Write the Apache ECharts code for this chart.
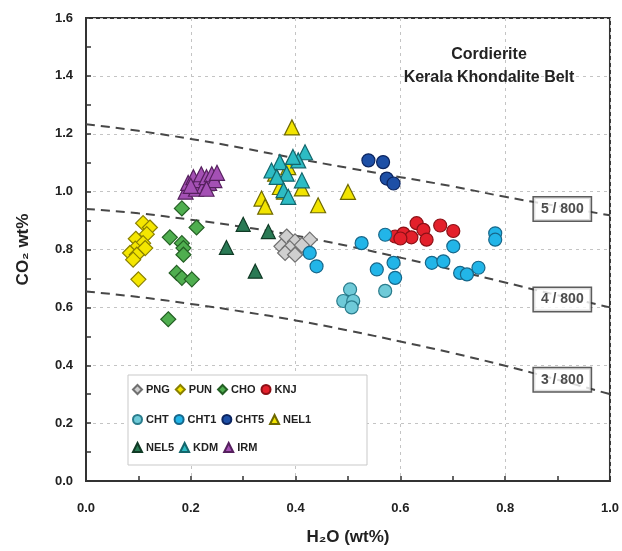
<!DOCTYPE html>
<html>
<head>
<meta charset="utf-8">
<script src="https://cdn.jsdelivr.net/npm/echarts@6/dist/echarts.min.js"></script>
<style>
html,body{margin:0;padding:0;background:#fff;}
#chart{width:622px;height:551px;}
</style>
</head>
<body>
<div id="chart"></div>
<script>
// ---- data (H2O wt%, CO2 wt%) ----
var PNG = [[0.383,0.845],[0.399,0.828],[0.373,0.811],[0.389,0.805],[0.408,0.799],[0.380,0.788],[0.399,0.782],[0.427,0.834],[0.412,0.815]];
var PUN = [[0.109,0.891],[0.122,0.876],[0.116,0.853],[0.095,0.837],[0.109,0.822],[0.094,0.803],[0.113,0.805],[0.084,0.788],[0.097,0.782],[0.090,0.765],[0.100,0.697]];
var CHO = [[0.183,0.942],[0.211,0.876],[0.160,0.842],[0.183,0.822],[0.186,0.805],[0.186,0.782],[0.173,0.719],[0.183,0.702],[0.202,0.697],[0.157,0.559]];
var KNJ = [[0.590,0.845],[0.606,0.855],[0.631,0.891],[0.621,0.842],[0.644,0.868],[0.650,0.834],[0.676,0.883],[0.701,0.864],[0.600,0.838]];
var CHT = [[0.504,0.662],[0.491,0.622],[0.510,0.622],[0.507,0.600],[0.571,0.657]];
var CHT1 = [[0.427,0.788],[0.440,0.742],[0.526,0.822],[0.571,0.851],[0.555,0.731],[0.587,0.754],[0.590,0.702],[0.701,0.811],[0.781,0.856],[0.781,0.834],[0.660,0.754],[0.682,0.759],[0.714,0.719],[0.727,0.714],[0.749,0.737]];
var CHT5 = [[0.539,1.108],[0.567,1.102],[0.574,1.045],[0.587,1.028]];
var NEL1 = [[0.393,1.222],[0.500,0.999],[0.443,0.953],[0.335,0.976],[0.342,0.948],[0.412,1.011],[0.370,1.016],[0.361,1.062],[0.386,1.085],[0.378,1.000]];
var NEL5 = [[0.300,0.887],[0.348,0.862],[0.268,0.807],[0.323,0.725]];
var KDM = [[0.418,1.136],[0.370,1.102],[0.405,1.108],[0.354,1.073],[0.383,1.062],[0.364,1.051],[0.412,1.039],[0.377,1.005],[0.386,0.982],[0.395,1.120]];
var IRM = [[0.190,1.000],[0.195,1.030],[0.205,1.050],[0.210,1.010],[0.215,1.040],[0.220,1.060],[0.225,1.020],[0.230,1.050],[0.235,1.030],[0.240,1.060],[0.245,1.040],[0.250,1.065],[0.200,1.020],[0.230,1.010]];

// isopleth curves (CO2 vs H2O)
var curveX = [0.0,0.1,0.2,0.3,0.4,0.5,0.6,0.7,0.8,0.9,1.0];
var iso5 = [1.233,1.210,1.182,1.150,1.115,1.082,1.050,1.018,0.982,0.950,0.918];
var iso4 = [0.940,0.925,0.903,0.878,0.848,0.812,0.772,0.730,0.686,0.642,0.600];
var iso3 = [0.655,0.636,0.612,0.585,0.555,0.520,0.482,0.442,0.398,0.350,0.300];
var isoLabels = ['5 / 800','4 / 800','3 / 800'];
var isoLabelPos = [[0.909,0.940],[0.909,0.627],[0.909,0.350]];

var xTicks = [0.0,0.2,0.4,0.6,0.8,1.0];
var yTicks = [0.0,0.2,0.4,0.6,0.8,1.0,1.2,1.4,1.6];

var seriesNames = ['PNG','PUN','CHO','KNJ','CHT','CHT1','CHT5','NEL1','NEL5','KDM','IRM'];
var seriesData = [PNG,PUN,CHO,KNJ,CHT,CHT1,CHT5,NEL1,NEL5,KDM,IRM];

// ---- styles ----
var styles = {
  PNG:{symbol:'diamond',size:15,color:'#cfcfcf',border:'#707070'},
  PUN:{symbol:'diamond',size:15,color:'#f4e600',border:'#8a8000'},
  CHO:{symbol:'diamond',size:15,color:'#4fae4f',border:'#245f24'},
  KNJ:{symbol:'circle',size:13,color:'#e3202b',border:'#8c1016'},
  CHT:{symbol:'circle',size:13,color:'#6fcad8',border:'#2a7c8c'},
  CHT1:{symbol:'circle',size:13,color:'#22b5e8',border:'#16678a'},
  CHT5:{symbol:'circle',size:13,color:'#1d4fa6',border:'#0c2560'},
  NEL1:{symbol:'triangle',size:15,color:'#f2e400',border:'#6e6800'},
  NEL5:{symbol:'triangle',size:14,color:'#2a7a55',border:'#103a25'},
  KDM:{symbol:'triangle',size:15,color:'#2dbcc4',border:'#13666c'},
  IRM:{symbol:'triangle',size:15,color:'#a450b4',border:'#56205e'}
};

function pairs(xs, ys){ var out=[]; for(var i=0;i<xs.length;i++) out.push([xs[i],ys[i]]); return out; }

var series = [];
[iso5, iso4, iso3].forEach(function(c){
  series.push({type:'line', data:pairs(curveX,c), smooth:true, symbol:'none', silent:true, z:1,
    lineStyle:{color:'#474747', width:2, type:[9,6]}});
});
seriesNames.forEach(function(n,i){
  var s = styles[n];
  series.push({name:n, type:'scatter', data:seriesData[i], symbol:s.symbol, symbolSize:s.size, z:3,
    itemStyle:{color:s.color, borderColor:s.border, borderWidth:1.2, opacity:1}});
});
series.push({type:'scatter', silent:true, z:6, symbolSize:0,
  data:isoLabelPos.map(function(p,i){return {value:p, name:isoLabels[i]};}),
  label:{show:true, position:'inside', formatter:'{b}', color:'#222', fontWeight:'bold', fontSize:14,
    fontFamily:'Liberation Sans, Arial, sans-serif',
    backgroundColor:'#fff', borderColor:'#333', borderWidth:1.5, padding:[5,7,4,7]}});

var rows = [['PNG','PUN','CHO','KNJ'],['CHT','CHT1','CHT5','NEL1'],['NEL5','KDM','IRM']];
var rowTops = [384,414,442];
var legends = rows.map(function(r,i){
  return {data:r, left:132, top:rowTops[i], orient:'horizontal', itemWidth:9, itemHeight:9, itemGap:5,
    padding:0, selectedMode:false, z:5,
    textStyle:{fontSize:11, fontWeight:'bold', color:'#222', width:42, fontFamily:'Liberation Sans, Arial, sans-serif', padding:[0,0,0,-1]}};
});

var font = 'Liberation Sans, Arial, sans-serif';
var chart = echarts.init(document.getElementById('chart'), null, {renderer:'canvas'});
chart.setOption({
  animation:false,
  backgroundColor:'#fff',
  textStyle:{fontFamily:font},
  title:{text:'Cordierite\nKerala Khondalite Belt', left:484, top:38, textAlign:'center',
    textStyle:{fontSize:16, fontWeight:'bold', color:'#222', lineHeight:23, fontFamily:font}},
  grid:{left:86, right:12, top:18, bottom:66, show:true, borderColor:'#333', borderWidth:2, backgroundColor:'transparent'},
  legend:legends,
  graphic:[{type:'rect', shape:{x:128,y:375,width:239,height:90}, style:{fill:'#fff', stroke:'#c9c9c9', lineWidth:1}, z:3}],
  xAxis:{type:'value', min:xTicks[0], max:xTicks[xTicks.length-1], interval:0.2,
    name:'H\u2082O (wt%)', nameLocation:'middle', nameGap:48,
    nameTextStyle:{fontSize:17, fontWeight:'bold', color:'#222', fontFamily:font},
    axisLine:{show:true, lineStyle:{color:'#333', width:2}},
    axisTick:{show:true, inside:true, length:5, lineStyle:{color:'#333', width:1.5}},
    minorTick:{show:true, splitNumber:2, length:5, lineStyle:{color:'#333', width:1.5}},
    axisLabel:{fontSize:13, fontWeight:'bold', color:'#222', margin:21, formatter:function(v){return v.toFixed(1);}},
    splitLine:{show:true, lineStyle:{color:'#c4c4c4', width:1, type:[3,4]}}},
  yAxis:{type:'value', min:yTicks[0], max:yTicks[yTicks.length-1], interval:0.2,
    name:'CO\u2082 wt%', nameLocation:'middle', nameGap:54, nameRotate:90,
    nameTextStyle:{fontSize:17, fontWeight:'bold', color:'#222', fontFamily:font},
    axisLine:{show:true, lineStyle:{color:'#333', width:2}},
    axisTick:{show:true, inside:true, length:5, lineStyle:{color:'#333', width:1.5}},
    minorTick:{show:true, splitNumber:2, length:5, lineStyle:{color:'#333', width:1.5}},
    axisLabel:{fontSize:13, fontWeight:'bold', color:'#222', margin:13, formatter:function(v){return v.toFixed(1);}},
    splitLine:{show:true, lineStyle:{color:'#c4c4c4', width:1, type:[3,4]}}},
  series:series
});
</script>
</body>
</html>
